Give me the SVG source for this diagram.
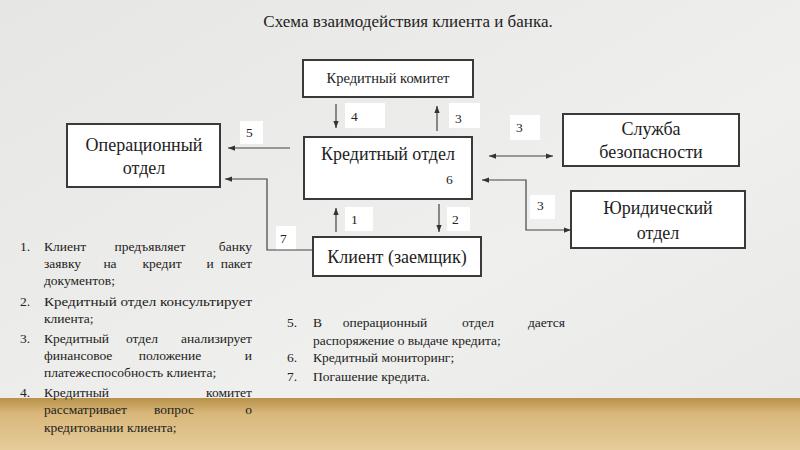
<svg xmlns="http://www.w3.org/2000/svg" width="800" height="450" viewBox="0 0 800 450">
<defs>
<linearGradient id="bg" x1="0" y1="0" x2="1" y2="1"><stop offset="0" stop-color="#e6e6e4"/><stop offset="0.6" stop-color="#efefed"/><stop offset="1" stop-color="#e8e8e6"/></linearGradient>
<linearGradient id="fl" x1="0" y1="0" x2="0" y2="1"><stop offset="0" stop-color="#b8924a"/><stop offset="0.3" stop-color="#d9b77a"/><stop offset="1" stop-color="#e6cc9a"/></linearGradient>
<marker id="a" viewBox="0 0 8 6" refX="8" refY="3" markerWidth="6" markerHeight="5" orient="auto-start-reverse"><path d="M0,0L8,3L0,6z" fill="#333"/></marker>
</defs>
<style>
text{font-family:"Liberation Serif","DejaVu Serif",serif}
.n{fill:#fff;stroke:#3a3a3a;stroke-width:2}
.t{fill:#222;text-anchor:middle}
.l{fill:#fff}
.c{stroke:#444;stroke-width:1.2;fill:none;marker-end:url(#a)}
.s{font-size:13.5px;fill:#222}
.e{text-anchor:end}
.m{text-anchor:middle}
</style>
<rect width="800" height="450" fill="url(#bg)"/>
<rect y="398" width="800" height="52" fill="url(#fl)"/>
<text x="408" y="27" class="t" font-size="17">Схема взаимодействия клиента и банка.</text>
<g id="labels" class="s">
<rect class="l" x="345" y="103" width="40" height="25"/><text x="351" y="121">4</text>
<rect class="l" x="449" y="103" width="31" height="25"/><text x="455" y="123">3</text>
<rect class="l" x="240" y="121" width="23" height="23"/><text x="246" y="137">5</text>
<rect class="l" x="510" y="115" width="30" height="25"/><text x="516" y="132">3</text>
<rect class="l" x="345" y="207" width="28" height="24"/><text x="351" y="224">1</text>
<rect class="l" x="447" y="207" width="23" height="24"/><text x="452" y="224">2</text>
<rect class="l" x="276" y="226" width="20" height="24"/><text x="280" y="243">7</text>
<rect class="l" x="530" y="195" width="25" height="24"/><text x="537" y="210">3</text>
</g>
<g id="connectors">
<line class="c" x1="336" y1="104" x2="336" y2="128"/>
<line class="c" x1="437" y1="131" x2="437" y2="106"/>
<line class="c" x1="290" y1="148" x2="228" y2="148"/>
<line class="c" x1="489" y1="156" x2="553" y2="156" style="marker-start:url(#a)"/>
<path class="c" d="M571,230H526V180H482" style="marker-start:url(#a)"/>
<line class="c" x1="336" y1="232" x2="336" y2="208"/>
<line class="c" x1="439" y1="204" x2="439" y2="232"/>
<path class="c" d="M313,250H267V179H225"/>
</g>
<g id="komitet"><rect class="n" x="303" y="60" width="170" height="37"/><text x="388" y="83" class="t" font-size="14.5">Кредитный комитет</text></g>
<g id="otdel"><rect class="n" x="304" y="137" width="168" height="62"/><text x="388" y="160" class="t" font-size="18">Кредитный отдел</text><text x="446" y="184" class="s">6</text></g>
<g id="oper"><rect class="n" x="67" y="124" width="153" height="63"/><text x="144" y="151" class="t" font-size="18">Операционный</text><text x="144" y="174" class="t" font-size="18">отдел</text></g>
<g id="sb"><rect class="n" x="563" y="114" width="176" height="52"/><text x="651" y="135" class="t" font-size="18">Служба</text><text x="651" y="158" class="t" font-size="18">безопасности</text></g>
<g id="yur"><rect class="n" x="571" y="191" width="174" height="57"/><text x="658" y="214" class="t" font-size="18">Юридический</text><text x="658" y="239" class="t" font-size="18">отдел</text></g>
<g id="client"><rect class="n" x="313" y="237" width="168" height="39"/><text x="397" y="263" class="t" font-size="18">Клиент (заемщик)</text></g>
<g id="list1" class="s">
<text x="20" y="251">1.</text><text x="44" y="251">Клиент</text><text x="150" y="251" class="m">предъявляет</text><text x="252" y="251" class="e">банку</text>
<text x="44" y="268">заявку</text><text x="110" y="268" class="m">на</text><text x="162" y="268" class="m">кредит</text><text x="210" y="268" class="m">и</text><text x="252" y="268" class="e">пакет</text>
<text x="44" y="285">документов;</text>
<text x="20" y="306">2.</text><text x="44" y="306" textLength="208" lengthAdjust="spacingAndGlyphs">Кредитный отдел консультирует</text>
<text x="44" y="323">клиента;</text>
<text x="20" y="343">3.</text><text x="44" y="343">Кредитный</text><text x="142" y="343" class="m">отдел</text><text x="252" y="343" class="e">анализирует</text>
<text x="44" y="360">финансовое</text><text x="170" y="360" class="m">положение</text><text x="252" y="360" class="e">и</text>
<text x="44" y="377">платежеспособность клиента;</text>
<text x="20" y="397">4.</text><text x="44" y="397">Кредитный</text><text x="252" y="397" class="e">комитет</text>
<text x="44" y="414">рассматривает</text><text x="174" y="414" class="m">вопрос</text><text x="252" y="414" class="e">о</text>
<text x="44" y="432">кредитовании клиента;</text>
</g>
<g id="list2" class="s">
<text x="287" y="327">5.</text><text x="313" y="327">В</text><text x="385" y="327" class="m">операционный</text><text x="478" y="327" class="m">отдел</text><text x="565" y="327" class="e">дается</text>
<text x="313" y="345">распоряжение о выдаче кредита;</text>
<text x="287" y="362">6.</text><text x="313" y="362">Кредитный мониторинг;</text>
<text x="287" y="381">7.</text><text x="313" y="381">Погашение кредита.</text>
</g>
</svg>
